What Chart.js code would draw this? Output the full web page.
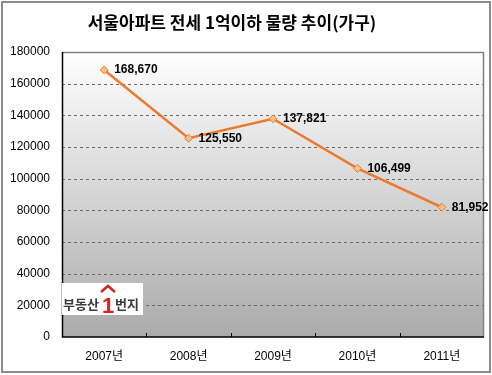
<!DOCTYPE html>
<html>
<head>
<meta charset="utf-8">
<script src="https://cdn.jsdelivr.net/npm/chart.js@4/dist/chart.umd.min.js"></script>
<style>
  html, body { margin: 0; padding: 0; background: #fff; }
  #wrap { width: 492px; height: 375px; position: relative; }
</style>
</head>
<body>
<div id="wrap"><canvas id="chart" width="492" height="375"></canvas></div>
<script>
const chartTitle = "서울아파트 전세 1억이하 물량 추이(가구)";
const years = ["2007년", "2008년", "2009년", "2010년", "2011년"];
const households = [168670, 125550, 137821, 106499, 81952];
const yMax = 180000;
const yStep = 20000;

const font = "'Noto Sans CJK KR', 'Noto Sans', sans-serif";
const numFont = "'Liberation Sans', Arial, 'Noto Sans CJK KR', sans-serif";

// background, gridlines, borders, title, labels, logo
const decor = {
  id: "decor",
  beforeDraw(chart) {
    const { ctx, chartArea: a } = chart;
    ctx.save();
    ctx.fillStyle = "#fff";
    ctx.fillRect(0, 0, chart.width, chart.height);
    // outer frame
    ctx.strokeStyle = "#8c8c8c";
    ctx.lineWidth = 2;
    ctx.strokeRect(2, 2, 488, 370);
    const g = ctx.createLinearGradient(0, a.top, 0, a.bottom);
    g.addColorStop(0, "#ffffff");
    g.addColorStop(1, "#ababab");
    ctx.fillStyle = g;
    ctx.fillRect(a.left, a.top, a.right - a.left, a.bottom - a.top);
    // dashed gridlines
    const ys = chart.scales.y;
    ctx.strokeStyle = "#6a6a6a";
    ctx.lineWidth = 1;
    ctx.setLineDash([3, 3]);
    ys.ticks.forEach((t) => {
      if (t.value === 0 || t.value === yMax) return;
      const py = Math.round(ys.getPixelForValue(t.value)) + 0.5;
      ctx.beginPath();
      ctx.moveTo(a.left, py);
      ctx.lineTo(a.right, py);
      ctx.stroke();
    });
    ctx.restore();
  },
  afterDraw(chart) {
    const { ctx, chartArea: a } = chart;
    ctx.save();
    // plot border (top / right gray)
    ctx.strokeStyle = "#808080";
    ctx.lineWidth = 1.5;
    ctx.beginPath();
    ctx.moveTo(a.left, a.top + 0.5);
    ctx.lineTo(a.right - 0.5, a.top + 0.5);
    ctx.lineTo(a.right - 0.5, a.bottom);
    ctx.stroke();
    // axes black
    ctx.strokeStyle = "#000";
    ctx.lineWidth = 1.5;
    ctx.beginPath();
    ctx.moveTo(a.left + 0.5, a.top);
    ctx.lineTo(a.left + 0.5, a.bottom);
    ctx.lineTo(a.right, a.bottom);
    ctx.stroke();
    // category tick marks
    const xs = chart.scales.x;
    const half = (xs.getPixelForValue(1) - xs.getPixelForValue(0)) / 2;
    ctx.lineWidth = 1;
    for (let i = 1; i < years.length; i++) {
      const px = Math.round(xs.getPixelForValue(i) - half) + 0.5;
      ctx.beginPath();
      ctx.moveTo(px, a.bottom - 4);
      ctx.lineTo(px, a.bottom);
      ctx.stroke();
    }
    // title
    ctx.fillStyle = "#000";
    ctx.font = "bold 17px " + font;
    ctx.textAlign = "center";
    ctx.textBaseline = "middle";
    ctx.fillText(chartTitle, 232, 23);
    // logo
    ctx.fillStyle = "#fff";
    ctx.fillRect(62, 283, 81, 32);
    ctx.textAlign = "left";
    ctx.textBaseline = "alphabetic";
    ctx.fillStyle = "#3a3a3a";
    ctx.font = "bold 13px " + font;
    ctx.fillText("부동산", 63, 309);
    ctx.fillText("번지", 115, 309);
    ctx.fillStyle = "#d2261e";
    ctx.font = "bold 22px " + numFont;
    ctx.fillText("1", 102, 313);
    ctx.strokeStyle = "#d2261e";
    ctx.lineWidth = 2.5;
    ctx.beginPath();
    ctx.moveTo(101, 292);
    ctx.lineTo(108, 286);
    ctx.lineTo(115, 292);
    ctx.stroke();
    // value labels
    const meta = chart.getDatasetMeta(0);
    ctx.fillStyle = "#000";
    ctx.font = "bold 12px " + numFont;
    ctx.textBaseline = "middle";
    meta.data.forEach((pt, i) => {
      ctx.fillText(households[i].toLocaleString("en-US"), pt.x + 10, pt.y);
    });
    ctx.restore();
  }
};

new Chart(document.getElementById("chart"), {
  type: "line",
  data: {
    labels: years,
    datasets: [{
      data: households,
      borderColor: "#ec7a2c",
      borderWidth: 2.5,
      pointStyle: "rectRot",
      pointRadius: 4,
      pointBackgroundColor: "#f8c08a",
      pointBorderColor: "#ec7a2c",
      pointBorderWidth: 1,
      tension: 0
    }]
  },
  options: {
    responsive: false,
    animation: false,
    layout: { padding: { top: 52, right: 8, left: 0, bottom: 0 } },
    plugins: { legend: { display: false }, tooltip: { enabled: false } },
    scales: {
      x: {
        offset: true,
        grid: { display: false, drawTicks: false },
        border: { display: false },
        ticks: { color: "#000", font: { size: 12, family: numFont }, padding: 12 },
        afterFit: (s) => { s.height = 38; }
      },
      y: {
        min: 0,
        max: yMax,
        ticks: {
          stepSize: yStep,
          color: "#000",
          font: { size: 12, family: numFont },
          padding: 12,
          callback: (v) => String(v)
        },
        grid: { display: false, drawTicks: false },
        border: { display: false },
        afterFit: (s) => { s.width = 62; }
      }
    }
  },
  plugins: [decor]
});
</script>
</body>
</html>
